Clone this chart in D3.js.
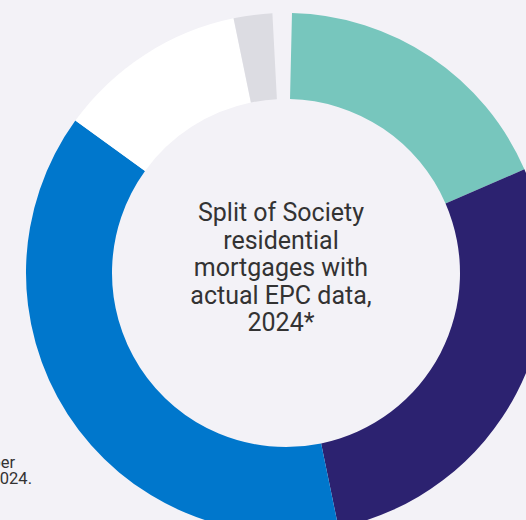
<!DOCTYPE html>
<meta charset="utf-8">
<style>
body { margin: 0; background: #f3f2f7; }
svg { display: block; }
text { font-family: Roboto, sans-serif; fill: #333333; }
</style>
<svg width="526" height="520"></svg>
<script src="https://cdn.jsdelivr.net/npm/d3@7"></script>
<script>

// EPC bands, clockwise from the top
var bands = ["A", "B", "C", "D", "E", "F-G"];
var shares = [1.2, 18.1, 28.3, 38.2, 11.8, 2.4];
var colours = ["#f3f2f7", "#77c6bd", "#2c2270", "#0077cc", "#ffffff", "#dcdce2"];

var titleLines = ["Split of Society", "residential", "mortgages with", "actual EPC data,", "2024*"];
var noteLines = ["as at 31 December", "2024."];

var svg = d3.select("svg"),
	cx = 286,
	cy = 273;

var color = d3.scaleOrdinal().domain(bands).range(colours);

var pie = d3.pie()
	.sort(null)
	.value(function(d, i) { return shares[i]; })
	.startAngle(-3 * Math.PI / 180)
	.endAngle(-3 * Math.PI / 180 + 2 * Math.PI);

var arc = d3.arc()
	.innerRadius(174)
	.outerRadius(260);

var g = svg.append("g")
	.attr("transform", "translate(" + cx + "," + cy + ")");

g.selectAll("path")
	.data(pie(bands))
	.enter().append("path")
	  .attr("d", arc)
	  .attr("fill", function(d) { return color(d.data); });

svg.append("g")
	.selectAll("text")
	.data(titleLines)
	.enter().append("text")
	  .attr("x", 281)
	  .attr("y", function(d, i) { return 221 + i * 27.5; })
	  .attr("text-anchor", "middle")
	  .style("font-size", "25px")
	  .text(function(d) { return d; });

// footnote, cut off by the left edge
svg.append("g")
	.selectAll("text")
	.data(noteLines)
	.enter().append("text")
	  .attr("x", function(d, i) { return i ? 32 : 15; })
	  .attr("y", function(d, i) { return 468 + i * 16; })
	  .attr("text-anchor", "end")
	  .style("font-size", "16.5px")
	  .text(function(d) { return d; });

</script>
